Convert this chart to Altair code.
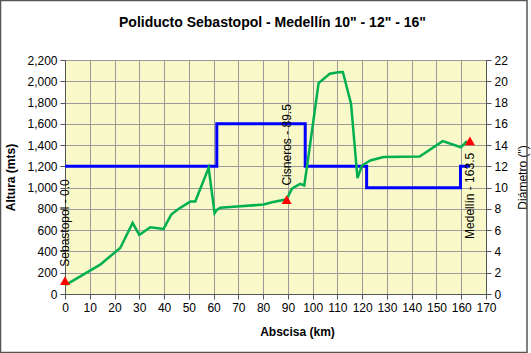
import altair as alt
import pandas as pd

TITLE = 'Poliducto Sebastopol - Medellín 10" - 12" - 16"'

# Elevation profile (green)
prof_km = [0.5, 14.2, 22.3, 27.3, 30.0, 34.4, 39.8, 42.9, 45.8, 50.6, 52.6, 58.0, 60.4, 61.3,
           62.7, 69.4, 80.2, 83.6, 89.5, 91.6, 93.0, 95.0, 96.6, 97.7, 102.4, 106.9, 110.4,
           112.2, 115.5, 118.1, 119.9, 123.3, 128.6, 143.2, 152.5, 159.9, 162.3]
prof_alt = [88, 276, 433, 668, 555, 627, 612, 747, 800, 869, 869, 1186, 759, 791,
            810, 822, 841, 863, 890, 988, 1010, 1036, 1020, 1192, 1983, 2071, 2084,
            2087, 1789, 1089, 1208, 1255, 1287, 1293, 1437, 1380, 1437]

# Diameter steps (blue, right axis)
diam_km = [0, 61.3, 97.0, 121.8, 159.7, 163.5]
diam_in = [12, 16, 12, 10, 12, 12]

# Stations (red triangles)
st_km = [0, 89.5, 163.5]
st_alt = [125, 888, 1440]
st_label = ["Sebastopol - 0.0", "Cisneros - 89.5", "Medellín - 163.5"]
st_pos = ["above", "above", "below"]

x_ticks = list(range(0, 171, 10))
y_ticks = list(range(0, 2201, 200))
y2_ticks = list(range(0, 23, 2))

FONT = "Liberation Sans"

prof = pd.DataFrame({"km": prof_km, "alt": prof_alt})
diam = pd.DataFrame({"km": diam_km, "d": diam_in})
st = pd.DataFrame({"km": st_km, "alt": st_alt, "label": st_label, "pos": st_pos})

xs = alt.Scale(domain=[0, 170], nice=False)
ys = alt.Scale(domain=[0, 2200], nice=False)

x_axis = alt.Axis(values=x_ticks, title="Abscisa (km)", grid=True, labelOverlap=False,
                  labelFlush=False, format="d", titleX=232, titleY=37,
                  titleBaseline="middle")
y_axis = alt.Axis(values=y_ticks, format=",.0f", title="Altura (mts)", grid=True,
                  labelOverlap=False, labelFlush=False, titleX=-55,
                  titleBaseline="middle", titleAngle=270)
y2_axis = alt.Axis(values=y2_ticks, format="d", orient="right", title='Diámetro (")',
                   grid=False, labelOverlap=False, labelFlush=False,
                   titleFontWeight="normal", titleX=36, titleAngle=270,
                   titleBaseline="middle")


def X():
    return alt.X("km:Q", scale=xs, axis=x_axis)


def Y():
    return alt.Y("alt:Q", scale=ys, axis=y_axis)


green = alt.Chart(prof).mark_line(color="#00B050", strokeWidth=2.5).encode(x=X(), y=Y())

tri = alt.Chart(st).mark_point(shape="triangle-up", filled=True, color="#FF0000",
                                size=100, opacity=1).encode(x=X(), y=Y())

lab_above = alt.Chart(st).transform_filter(alt.datum.pos == "above").mark_text(
    angle=270, align="left", baseline="middle", dx=14, fontSize=12, font=FONT, color="black"
).encode(x=X(), y=Y(), text="label:N")

lab_below = alt.Chart(st).transform_filter(alt.datum.pos == "below").mark_text(
    angle=270, align="right", baseline="middle", dx=-12, fontSize=12, font=FONT, color="black"
).encode(x=X(), y=Y(), text="label:N")

left = alt.layer(green, tri, lab_above, lab_below)

blue = alt.Chart(diam).mark_line(color="#0000FF", strokeWidth=3, interpolate="step-after").encode(
    x=X(),
    y=alt.Y("d:Q", scale=alt.Scale(domain=[0, 22], nice=False), axis=y2_axis),
)

one = pd.DataFrame({"t": [TITLE]})

# decorative outer frame of the chart
frame = alt.Chart(one).mark_rect(
    fillOpacity=0, stroke="#555555", strokeWidth=1.5
).encode(x=alt.value(-64.5), x2=alt.value(462), y=alt.value(-59.5), y2=alt.value(292.5))

# chart title
title = alt.Chart(one).mark_text(
    fontSize=14, font=FONT, fontWeight="bold", align="center", baseline="alphabetic",
    color="black"
).encode(x=alt.value(207.5), y=alt.value(-33), text="t:N")

chart = alt.layer(frame, title, blue, left).resolve_scale(y="independent").properties(
    width=421, height=234,
    autosize=alt.AutoSizeParams(type="none"),
    padding={"left": 65, "top": 60, "right": 45, "bottom": 59},
    background="white",
).configure_view(
    fill="#F8F8C8", stroke="#8C8C8C", strokeWidth=1
).configure_axis(
    labelFont=FONT, labelFontSize=12, labelColor="black",
    titleFont=FONT, titleFontSize=12, titleColor="black", titleFontWeight="bold",
    domainColor="#555555", tickColor="#555555", tickSize=5, labelPadding=3,
    gridColor="#9A9A9A", gridWidth=1, gridOpacity=1,
)

chart.save("out.html", embed_options={"renderer": "svg", "actions": False})
